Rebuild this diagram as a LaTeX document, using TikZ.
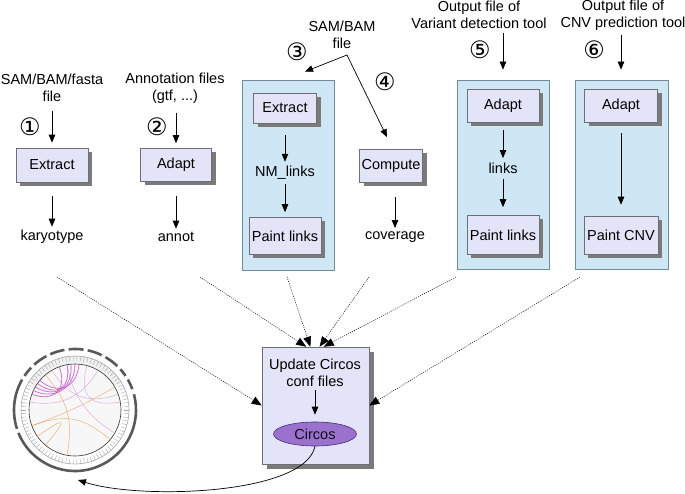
\documentclass[tikz,border=0pt]{standalone}
\usepackage{fontspec}
\setmainfont{Liberation Sans}
\newfontfamily\numfont{DejaVu Sans}
\usetikzlibrary{arrows.meta, positioning, shapes.geometric, shadows}
\definecolor{boxcol}{HTML}{E4E4F8}
\definecolor{boxedge}{HTML}{6E6E78}
\definecolor{panelcol}{HTML}{CFE7F4}
\definecolor{paneledge}{HTML}{6F8C9C}
\definecolor{circoscol}{HTML}{9A72CE}
\definecolor{circosedge}{HTML}{4A2D7A}
\definecolor{shadowcol}{HTML}{7A7A7A}
\definecolor{linkpink}{HTML}{C040C0}
\definecolor{linkorange}{HTML}{E8A060}

\begin{document}
\begin{tikzpicture}[
  x=1pt, y=-1pt,
  font=\fontsize{14.5}{17}\selectfont,
  >={Triangle[length=8pt, width=6.5pt]},
  every node/.style={align=center},
  shadowed/.style={general shadow={shadow xshift=#1, shadow yshift=-#1, fill=shadowcol}},
  shadowed/.default=4pt,
  box/.style={draw=boxedge, fill=boxcol, line width=0.6pt, shadowed,
              minimum width=72pt, minimum height=34pt, inner sep=2pt},
  panel/.style={draw=paneledge, fill=panelcol, line width=0.8pt,
                minimum width=92pt, minimum height=190pt},
  num/.style={font=\numfont\fontsize{24}{24}\selectfont, inner sep=0pt},
  tool/.style={ellipse, draw=circosedge, fill=circoscol, line width=0.6pt,
               minimum width=83pt, minimum height=24pt, inner sep=1pt,
               text=black!80!circosedge},
  arr/.style={->, line width=0.7pt},
  feed/.style={-{Triangle[length=10pt, width=8pt]}, line width=0.5pt, black,
               dash pattern=on 1pt off 1.2pt}
]
\useasboundingbox (0,0) rectangle (685,494);

%% ── Inputs ────────────────────────────────────────────────────────────────
\node (in1) at (52,88)  {SAM/BAM/fasta\\file};
\node (in2) at (175,88) {Annotation files\\(gtf, ...)};
\node (in3) at (342,35) {SAM/BAM\\file};
\node (in5) at (479,15) {Output file of\\Variant detection tool};
\node (in6) at (623,15) {Output file of\\CNV prediction tool};

\node[num] (n1) at (30,127)  {①};
\node[num] (n2) at (157,127) {②};
\node[num] (n3) at (297,52)  {③};
\node[num] (n4) at (385,82)  {④};
\node[num] (n5) at (480,50)  {⑤};
\node[num] (n6) at (594,50)  {⑥};

%% ── Column 1 : karyotype ──────────────────────────────────────────────────
\node[box] (extract1) at (52,165) {Extract};
\node (karyo) at (52,237) {karyotype};
\draw[arr, shorten <=6pt, shorten >=5pt] (in1) -- (extract1);
\draw[arr, shorten <=14pt] (extract1) -- (karyo);

%% ── Column 2 : annotations ────────────────────────────────────────────────
\node[box, minimum width=71pt, minimum height=33pt] (adapt2) at (176,165) {Adapt};
\node (annot) at (176,237) {annot};
\draw[arr, shorten <=6pt, shorten >=5pt] (in2.south -| adapt2) -- (adapt2);
\draw[arr, shorten <=14pt] (adapt2) -- (annot);

%% ── Column 3 : NM links ───────────────────────────────────────────────────
\node[panel] (panel3) at (288,175) {};
\node[box, minimum width=63pt, minimum height=30pt] (extract3) at (285,108) {Extract};
\node (nmlinks) at (285,173) {NM\_links};
\node[box, minimum height=37pt] (paint3) at (285,236) {Paint links};
\draw[arr, shorten <=12pt, shorten >=1pt] (extract3) -- (nmlinks);
\draw[arr, shorten <=1pt, shorten >=5pt] (nmlinks) -- (paint3);

\coordinate (split) at (347,55);
\draw[arr] (split) -- ([xshift=17pt, yshift=8pt]panel3.north);

%% ── Column 4 : coverage ───────────────────────────────────────────────────
\node[box, minimum width=63pt, minimum height=33pt] (compute) at (391,166) {Compute};
\node (cover) at (395,237) {coverage};
\draw[arr] (split) -- ([xshift=-4pt, yshift=12pt]compute.north);
\draw[arr, shorten <=14pt] (cover |- compute.south) -- (cover);

%% ── Column 5 : variant links ──────────────────────────────────────────────
\node[panel, minimum height=189pt] (panel5) at (503,174.5) {};
\node[box, minimum height=33pt] (adapt5) at (503,106) {Adapt};
\node (links) at (503,168) {links};
\node[box, minimum height=39pt] (paint5) at (503,235) {Paint links};
\draw[arr, shorten <=1pt, shorten >=10pt] (in5.south -| adapt5) -- (panel5.north);
\draw[arr, shorten <=7pt, shorten >=1pt] (adapt5) -- (links);
\draw[arr, shorten <=2pt, shorten >=8pt] (links) -- (paint5);

%% ── Column 6 : CNV ────────────────────────────────────────────────────────
\node[panel, minimum width=93pt, minimum height=189pt] (panel6) at (622,174.5) {};
\node[box, minimum width=73pt, minimum height=33pt] (adapt6) at (621,106) {Adapt};
\node[box, minimum width=74pt, minimum height=38pt] (paint6) at (621,235) {Paint CNV};
\draw[arr, shorten <=1pt, shorten >=10pt] (in6.south -| adapt6) -- (panel6.north -| adapt6);
\draw[arr, shorten <=10pt, shorten >=11pt] (adapt6) -- (paint6);

%% ── Update + Circos ───────────────────────────────────────────────────────
\node[draw=boxedge, fill=boxcol, line width=0.6pt, shadowed=5pt,
      minimum width=107pt, minimum height=117pt] (update) at (315.5,405.5) {};
\node (updtxt) at (315,373) {Update Circos\\conf files};
\node[tool] (circos) at (315,434) {Circos};
\draw[arr, shorten >=7pt] (updtxt) -- (circos);

%% ── Feeds into the update step ────────────────────────────────────────────
\coordinate (d1) at (57,277);
\coordinate (d2) at (200,277);
\coordinate (d3) at (287,277);
\coordinate (d4) at (369,277);
\coordinate (d5) at (456,277);
\coordinate (d6) at (580,277);
\draw[feed] (d1) -- (update.west);
\draw[feed] (d2) -- (update.99);
\draw[feed] (d3) -- (update.95);
\draw[feed] (d4) -- (update.86);
\draw[feed] (d5) -- (update.82);
\draw[feed] (d6) -- (update.east);

%% ── Circos plot ───────────────────────────────────────────────────────────
\begin{scope}[shift={(75,410)}, y=1pt]
  \foreach \a/\b in {202/375, 20/30, 34/42, 46/60, 64/78, 82/96,
                     100/114, 118/132, 136/146, 150/198}
    \draw[line width=2.6pt, gray!70!black] (\a:61) arc[start angle=\a, end angle=\b, radius=61];
  \fill[gray!12] (30:46) arc[start angle=30, end angle=150, radius=46]
                 -- (150:54) arc[start angle=150, end angle=30, radius=54] -- cycle;
  \foreach \t in {0,4,...,356}
    \draw[gray!70, line width=0.4pt] (\t:49) -- (\t:54);
  \draw[gray!70, line width=0.6pt] (0,0) circle[radius=54];
  \draw[black!80, line width=0.6pt, fill=gray!6] (0,0) circle[radius=46];
  \foreach \a/\b in {150/95, 145/100, 155/90, 140/85, 160/110}
    \draw[linkpink, line width=0.8pt, opacity=0.7] (\a:46) .. controls (\a:22) and (\b:22) .. (\b:46);
  \foreach \a/\b in {120/20, 100/-30, 170/60, 75/10}
    \draw[linkpink!60, line width=0.5pt, opacity=0.7] (\a:46) .. controls (\a:15) and (\b:15) .. (\b:46);
  \foreach \a/\b in {200/-40, 130/-100, 215/-130, 30/-160}
    \draw[linkorange, line width=0.5pt, opacity=0.8] (\a:46) .. controls (\a:10) and (\b:10) .. (\b:46);
  \coordinate (plotend) at (3,-70);
\end{scope}

\draw[arr] (circos.south) .. controls (305,495) and (140,500) .. (plotend);

\end{tikzpicture}
\end{document}
